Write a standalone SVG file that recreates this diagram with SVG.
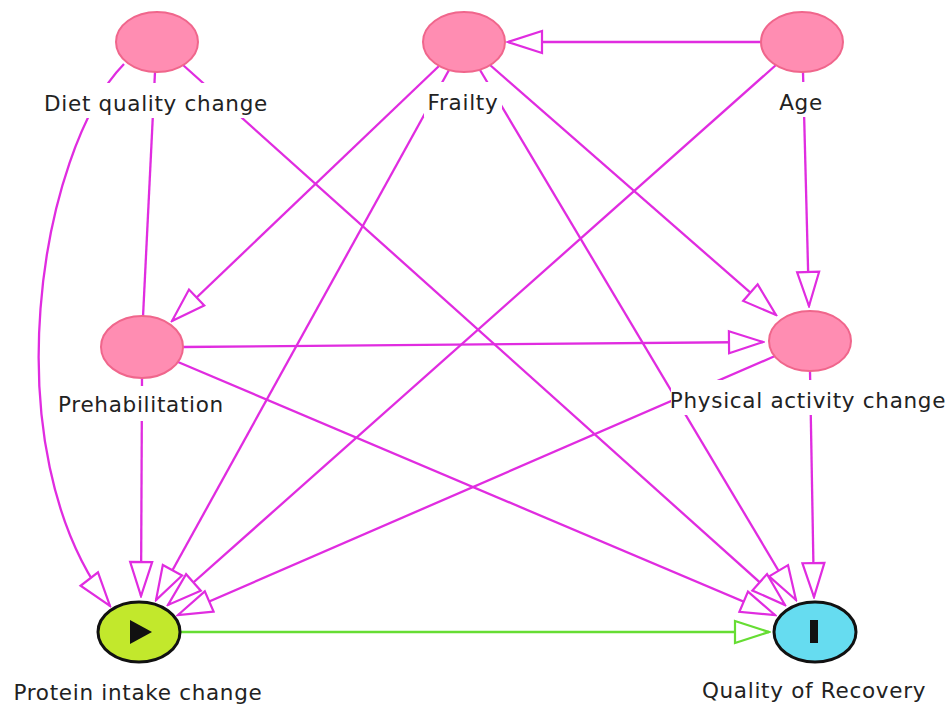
<svg xmlns="http://www.w3.org/2000/svg" width="950" height="709" viewBox="0 0 950 709">
<style>
.e{fill:none;stroke:#e02ce0;stroke-width:2.3}
.ea{fill:none;stroke:#e02ce0;stroke-width:2.3;marker-end:url(#ah)}
.g{fill:none;stroke:#66dd33;stroke-width:2.3;marker-end:url(#ag)}
.n{fill:#ff8db2;stroke:#f0668c;stroke-width:2}
.lb{fill:#ffffff}
.t{font-family:"DejaVu Sans",sans-serif;font-size:21.5px;letter-spacing:0.7px;fill:#222222;text-anchor:middle}
</style>
<defs>
<marker id="ah" viewBox="-2 -2 38 26" refX="34" refY="11" markerWidth="38" markerHeight="26" markerUnits="userSpaceOnUse" orient="auto">
<path d="M0,0 L34,11 L0,22 Z" fill="#ffffff" stroke="#e02ce0" stroke-width="2.2"/>
</marker>
<marker id="ag" viewBox="-2 -2 38 26" refX="34" refY="11" markerWidth="38" markerHeight="26" markerUnits="userSpaceOnUse" orient="auto">
<path d="M0,0 L34,11 L0,22 Z" fill="#ffffff" stroke="#66dd33" stroke-width="2.2"/>
</marker>
</defs>
<rect width="950" height="709" fill="#ffffff"/>
<g id="connectors">
<line class="ea" x1="761" y1="42" x2="508" y2="42"/>
<line class="ea" x1="803" y1="72" x2="809" y2="306"/>
<line class="ea" x1="776" y1="65" x2="168" y2="605"/>
<line class="ea" x1="439" y1="66" x2="172" y2="321"/>
<line class="ea" x1="449" y1="70" x2="156" y2="600"/>
<line class="ea" x1="490" y1="65" x2="776" y2="315"/>
<line class="ea" x1="480" y1="70" x2="796" y2="600"/>
<path class="ea" d="M124,64 C40,150 -10,450 110,606"/>
<line class="ea" x1="183" y1="65" x2="785" y2="605"/>
<line class="e" x1="143" y1="317" x2="155" y2="72"/>
<line class="ea" x1="183" y1="347" x2="763" y2="342"/>
<line class="ea" x1="142" y1="377" x2="141" y2="596"/>
<line class="ea" x1="178" y1="362" x2="775" y2="615"/>
<line class="ea" x1="775" y1="356" x2="178" y2="615"/>
<line class="ea" x1="810" y1="371" x2="814" y2="597"/>
<line class="g" x1="180" y1="632" x2="769" y2="632"/>
</g>
<g id="node-diet">
<ellipse class="n" cx="157" cy="42" rx="41" ry="30"/>
<rect class="lb" x="41" y="83" width="230" height="35"/>
<text class="t" x="156" y="111">Diet quality change</text>
</g>
<g id="node-frailty">
<ellipse class="n" cx="464" cy="42" rx="41" ry="30"/>
<rect class="lb" x="424" y="82" width="78" height="35"/>
<text class="t" x="463" y="110">Frailty</text>
</g>
<g id="node-age">
<ellipse class="n" cx="802" cy="42" rx="41" ry="30"/>
<rect class="lb" x="776" y="82" width="50" height="35"/>
<text class="t" x="801" y="110">Age</text>
</g>
<g id="node-prehab">
<ellipse class="n" cx="142" cy="347" rx="41" ry="31"/>
<rect class="lb" x="54" y="386" width="174" height="35"/>
<text class="t" x="141" y="412">Prehabilitation</text>
</g>
<g id="node-physical">
<ellipse class="n" cx="810" cy="341" rx="41" ry="30"/>
<rect class="lb" x="671" y="380" width="275" height="35"/>
<text class="t" x="808" y="408">Physical activity change</text>
</g>
<g id="node-protein">
<ellipse cx="139" cy="632" rx="41" ry="30" fill="#c2e82c" stroke="#111111" stroke-width="3"/>
<polygon points="130,620 152,632 130,644" fill="#111111"/>
<text class="t" x="138" y="700">Protein intake change</text>
</g>
<g id="node-quality">
<ellipse cx="815" cy="632" rx="41" ry="30" fill="#66dcf0" stroke="#111111" stroke-width="3"/>
<rect x="810" y="620" width="8" height="23" fill="#111111"/>
<text class="t" x="814" y="698">Quality of Recovery</text>
</g>
</svg>
